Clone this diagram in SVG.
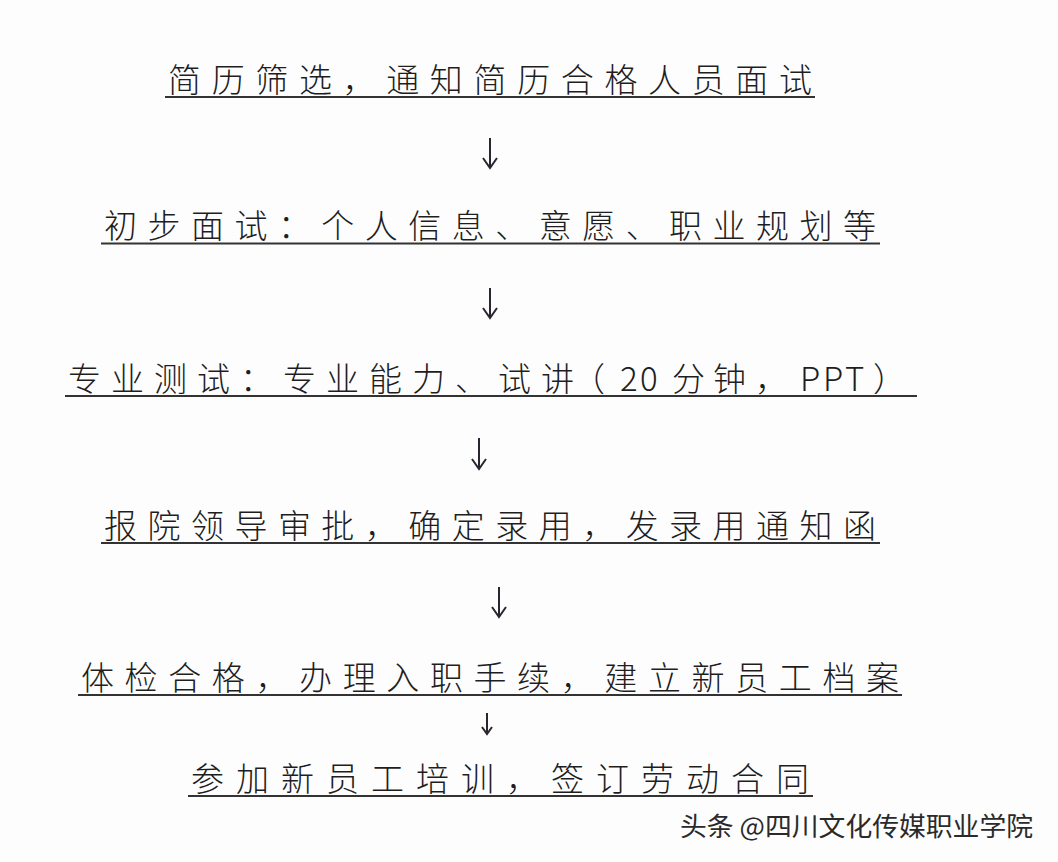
<svg xmlns="http://www.w3.org/2000/svg" width="1058" height="862" viewBox="0 0 1058 862">
<defs>
<style>
.t{font-family:"Noto Sans CJK SC","Noto Sans CJK JP",sans-serif;font-size:33px;fill:#1e1e1e;font-weight:300}
.u{stroke:#333;stroke-width:2}
.a{stroke:#2a2530;stroke-width:2;fill:none}
.w{font-family:"Noto Sans CJK SC",sans-serif;font-size:26px;fill:#2a2a2a}
</style>
</defs>
<rect x="0" y="0" width="1058" height="862" fill="#fdfdfe"/>
<g id="n1"><text class="t" x="168" y="92" textLength="644" lengthAdjust="spacing">简历筛选，通知简历合格人员面试</text><line class="u" x1="165" y1="97" x2="815" y2="97"/></g>
<g id="n2"><text class="t" x="104" y="238" textLength="772" lengthAdjust="spacing">初步面试：个人信息、意愿、职业规划等</text><line class="u" x1="101" y1="243.5" x2="880" y2="243.5"/></g>
<g id="n3"><text class="t" x="68 111 154 197 240 283 326 369 412 455 498 541 572 620 640 672 713 755 800 823 845 873" y="391">专业测试：专业能力、试讲（20分钟，PPT）</text><line class="u" x1="65" y1="396" x2="917" y2="396"/></g>
<g id="n4"><text class="t" x="104" y="538" textLength="772" lengthAdjust="spacing">报院领导审批，确定录用，发录用通知函</text><line class="u" x1="101" y1="543" x2="880" y2="543"/></g>
<g id="n5"><text class="t" x="81" y="690" textLength="818" lengthAdjust="spacing">体检合格，办理入职手续，建立新员工档案</text><line class="u" x1="78" y1="695" x2="902" y2="695"/></g>
<g id="n6"><text class="t" x="191" y="791" textLength="618" lengthAdjust="spacing">参加新员工培训，签订劳动合同</text><line class="u" x1="188" y1="796" x2="813" y2="796"/></g>
<g id="connectors">
<path class="a" d="M490 138V168M483 158L490 168L497 158"/>
<path class="a" d="M490 288V318M483 308L490 318L497 308"/>
<path class="a" d="M479 438V469M472 459L479 469L486 459"/>
<path class="a" d="M499 587V617M492 607L499 617L506 607"/>
<path class="a" d="M487 713V734M482 727L487 734L492 727"/>
</g>
<text class="w" x="680" y="836" textLength="353" lengthAdjust="spacingAndGlyphs">头条 @四川文化传媒职业学院</text>
</svg>
